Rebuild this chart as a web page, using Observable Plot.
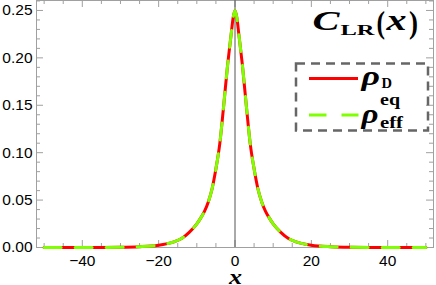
<!DOCTYPE html>
<html>
<head>
<meta charset="utf-8">
<script src="https://cdn.jsdelivr.net/npm/d3@7"></script>
<script src="https://cdn.jsdelivr.net/npm/@observablehq/plot@0.6"></script>
<style>
  html, body { margin: 0; padding: 0; background: #fff; }
  svg { display: block; }
</style>
</head>
<body>
<div id="chart"></div>
<script>
// ---- data ----
const xValues = [-50, -40, -35, -30, -25, -20, -18, -16, -14, -12, -10, -9, -8, -7, -6, -5, -4, -3, -2, -1, -0.5, 0,
                 0.5, 1, 2, 3, 4, 5, 6, 7, 8, 9, 10, 12, 14, 16, 18, 20, 25, 30, 35, 40, 50];
const rhoD = [0, 0, 0.00005, 0.0002, 0.0008, 0.0024, 0.0038, 0.006, 0.0095, 0.016, 0.025, 0.031, 0.038, 0.048, 0.062, 0.083, 0.109, 0.148, 0.19, 0.225, 0.242, 0.25,
              0.242, 0.225, 0.19, 0.148, 0.109, 0.083, 0.062, 0.048, 0.038, 0.031, 0.025, 0.016, 0.0095, 0.006, 0.0038, 0.0024, 0.0008, 0.0002, 0.00005, 0, 0];
const rhoEff = [0, 0, 0.00005, 0.0002, 0.0008, 0.0024, 0.0038, 0.006, 0.0095, 0.016, 0.025, 0.031, 0.038, 0.048, 0.062, 0.083, 0.109, 0.148, 0.19, 0.225, 0.242, 0.25,
                0.242, 0.225, 0.19, 0.148, 0.109, 0.083, 0.062, 0.048, 0.038, 0.031, 0.025, 0.016, 0.0095, 0.006, 0.0038, 0.0024, 0.0008, 0.0002, 0.00005, 0, 0];
const xTickLabels = [-40, -20, 0, 20, 40];
const xMinorTicks = [-50, -45, -35, -30, -25, -15, -10, -5, 5, 10, 15, 25, 30, 35, 45, 50];
const yTickLabels = [0, 0.05, 0.10, 0.15, 0.20, 0.25];
const yMinorTicks = d3.range(0, 27).map(i => i / 100).filter(v => Math.round(v * 100) % 5 !== 0);

const dataD = xValues.map((x, i) => ({x, y: rhoD[i]}));
const dataEff = xValues.map((x, i) => ({x, y: rhoEff[i]}));

// ---- layout ----
const W = 436, H = 285;
const mL = 36, mR = 3, mT = 0, mB = 38;
const pw = W - mL - mR, ph = H - mT - mB;
const frameColor = "#a0a0a0";
const red = "#ff0000", green = "#7fff00";

const svg = Plot.plot({
  width: W, height: H,
  marginLeft: mL, marginRight: mR, marginTop: mT, marginBottom: mB,
  style: {fontFamily: "'Liberation Sans', Arial, sans-serif", fontSize: "15.5px", color: "#000", background: "#fff"},
  x: {domain: [-52, 52], axis: null},
  y: {domain: [0, 0.2605], axis: null},
  marks: [
    Plot.tickY(yTickLabels, {stroke: frameColor, insetRight: pw - 7}),
    Plot.tickY(yMinorTicks, {stroke: frameColor, insetRight: pw - 4}),
    Plot.tickY(yTickLabels, {stroke: frameColor, insetLeft: pw - 7}),
    Plot.tickY(yMinorTicks, {stroke: frameColor, insetLeft: pw - 4}),
    Plot.tickX(xTickLabels, {stroke: frameColor, insetTop: ph - 7}),
    Plot.tickX(xMinorTicks, {stroke: frameColor, insetTop: ph - 4}),
    Plot.tickX(xTickLabels, {stroke: frameColor, insetBottom: ph - 7}),
    Plot.tickX(xMinorTicks, {stroke: frameColor, insetBottom: ph - 4}),
    Plot.frame({stroke: frameColor}),
    Plot.ruleX([0], {stroke: "#555", strokeWidth: 1}),
    Plot.line(dataD, {x: "x", y: "y", stroke: red, strokeWidth: 3, curve: "monotone-x"}),
    Plot.line(dataEff, {x: "x", y: "y", stroke: green, strokeWidth: 3, strokeDasharray: "17,14", curve: "monotone-x"}),
    Plot.axisY(yTickLabels, {tickSize: 0, tickPadding: 4, tickFormat: d3.format(".2f"), label: null, fontSize: 15.5}),
    Plot.axisX(xTickLabels, {tickSize: 0, tickPadding: 7, label: null, fontSize: 15.5})
  ]
});

const s = d3.select(svg);
function txt(g, str, x, y, size, w, italic) {
  const el = g.append("text")
    .attr("x", x).attr("y", y)
    .attr("text-anchor", "start")
    .attr("fill", "#000")
    .style("font-family", "'Liberation Serif', serif")
    .style("font-weight", "bold")
    .style("font-style", italic ? "italic" : "normal")
    .style("font-size", size + "px")
    .text(str);
  if (w) el.attr("textLength", w).attr("lengthAdjust", "spacingAndGlyphs");
  return el;
}

// title C_LR(x)
const t = s.append("g");
txt(t, "C", 312.5, 30, 28, 27, true);
txt(t, "LR", 340.5, 35, 15, 34, false);
txt(t, "(", 376.5, 33, 31, 8.5, false);
txt(t, "x", 386.5, 30, 29, 20, true);
txt(t, ")", 409, 33, 31, 9, false);

// x axis label
txt(s.append("g"), "x", 229, 284, 22, 13, true);

// legend
const lg = s.append("g");
lg.append("rect").attr("x", 296).attr("y", 63.5).attr("width", 132).attr("height", 67)
  .attr("fill", "none").attr("stroke", "#666").attr("stroke-width", 2.5).attr("stroke-dasharray", "9,6");
lg.append("line").attr("x1", 309).attr("x2", 358).attr("y1", 78.5).attr("y2", 78.5)
  .attr("stroke", red).attr("stroke-width", 3);
lg.append("line").attr("x1", 309).attr("x2", 358.5).attr("y1", 115).attr("y2", 115)
  .attr("stroke", green).attr("stroke-width", 3).attr("stroke-dasharray", "17.5,15");
txt(lg, "ρ", 361.5, 85, 28, 18.5, true);
txt(lg, "D", 381.5, 88, 15, 10.5, false);
txt(lg, "ρ", 361.5, 123, 28, 17, true);
txt(lg, "eq", 380, 105, 16, 20, false);
txt(lg, "eff", 380, 128, 16, 23, false);

document.getElementById("chart").appendChild(svg);
</script>
</body>
</html>
